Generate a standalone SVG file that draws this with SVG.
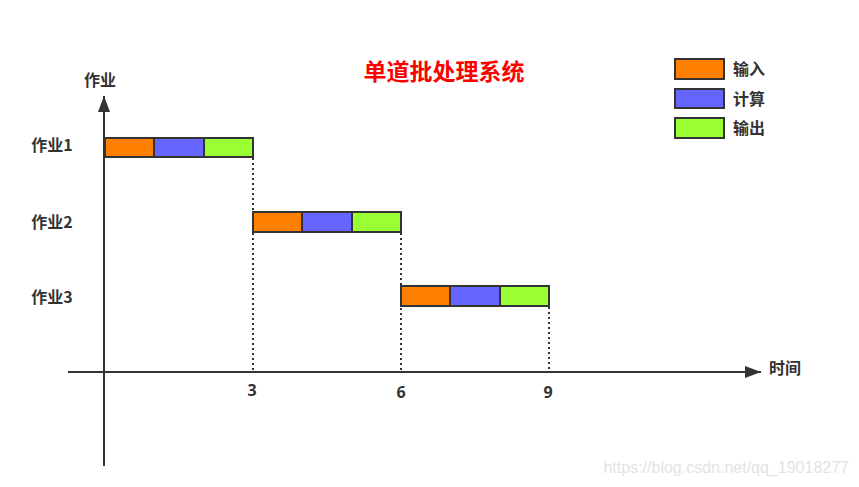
<svg xmlns="http://www.w3.org/2000/svg" width="859" height="487" viewBox="0 0 859 487">
<style>
text{font-family:"Noto Sans CJK SC","Liberation Sans",sans-serif;font-weight:bold;fill:#333}
.lbl{font-size:16px}
.seg{stroke:#333;stroke-width:2}
.in{fill:#FF8000}
.cp{fill:#6666FF}
.out{fill:#99FF33}
.axis{stroke:#333;stroke-width:2;fill:none}
.dot{stroke:#333;stroke-width:2;stroke-dasharray:2 3;fill:none}
.num{font-family:"Open Sans","Liberation Sans",sans-serif;font-size:16px}
</style>
<defs>
<marker id="arrL" markerWidth="16" markerHeight="12" refX="16" refY="6" orient="auto" markerUnits="userSpaceOnUse" viewBox="0 0 16 12">
<path d="M0,0 L16,6 L0,12 Z" fill="#333"/>
</marker>
</defs>
<rect width="859" height="487" fill="#fff"/>
<text x="444" y="80" text-anchor="middle" style="font-size:23px;fill:#FF0000">单道批处理系统</text>
<g id="connectors">
<line class="axis" x1="104" y1="466" x2="104" y2="96" marker-end="url(#arrL)"/>
<line class="axis" x1="68" y1="372" x2="761" y2="372" marker-end="url(#arrL)"/>
<line class="dot" x1="253" y1="158" x2="253" y2="371"/>
<line class="dot" x1="401" y1="233" x2="401" y2="371"/>
<line class="dot" x1="549" y1="307" x2="549" y2="371"/>
</g>
<g id="axis-labels">
<text class="lbl" x="100" y="86" text-anchor="middle">作业</text>
<text class="lbl" x="785" y="374" text-anchor="middle">时间</text>
<text class="num" x="252" y="396" text-anchor="middle">3</text>
<text class="num" x="401" y="398" text-anchor="middle">6</text>
<text class="num" x="548" y="398" text-anchor="middle">9</text>
</g>
<g id="job1">
<text class="lbl" x="52" y="151" text-anchor="middle">作业1</text>
<rect class="seg in" x="105" y="138" width="49" height="19"/>
<rect class="seg cp" x="154" y="138" width="50" height="19"/>
<rect class="seg out" x="204" y="138" width="49" height="19"/>
</g>
<g id="job2">
<text class="lbl" x="52" y="228" text-anchor="middle">作业2</text>
<rect class="seg in" x="253" y="212" width="49" height="20"/>
<rect class="seg cp" x="302" y="212" width="50" height="20"/>
<rect class="seg out" x="352" y="212" width="49" height="20"/>
</g>
<g id="job3">
<text class="lbl" x="52" y="303" text-anchor="middle">作业3</text>
<rect class="seg in" x="401" y="286" width="49" height="20"/>
<rect class="seg cp" x="450" y="286" width="50" height="20"/>
<rect class="seg out" x="500" y="286" width="49" height="20"/>
</g>
<g id="legend">
<rect class="seg in" x="675" y="59" width="49" height="20"/>
<text class="lbl" x="733" y="75">输入</text>
<rect class="seg cp" x="675" y="89" width="49" height="19"/>
<text class="lbl" x="733" y="105">计算</text>
<rect class="seg out" x="675" y="118" width="49" height="20"/>
<text class="lbl" x="733" y="134">输出</text>
</g>
<text x="849" y="473" text-anchor="end" style="font-family:'Liberation Sans',sans-serif;font-weight:normal;font-size:16px;fill:#e3e3e3">https://blog.csdn.net/qq_19018277</text>
</svg>
